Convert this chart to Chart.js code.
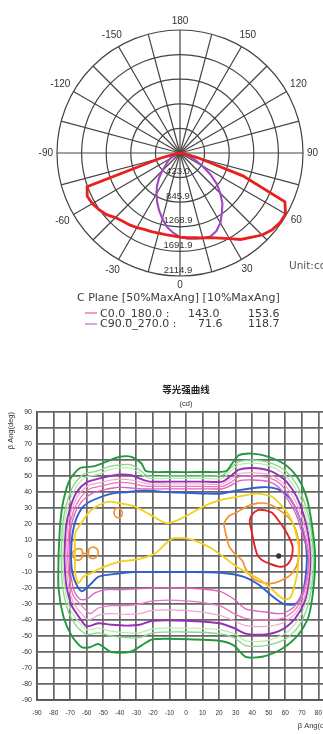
<!DOCTYPE html>
<html>
<head>
<meta charset="utf-8">
<script src="https://cdn.jsdelivr.net/npm/chart.js@4.4.0/dist/chart.umd.min.js"></script>
<style>
html, body { margin: 0; padding: 0; background: #fff; overflow: hidden; width: 323px; height: 734px; }
#polarChart { position: absolute; left: 0; top: 0; }
#isoChart { position: absolute; left: 0; top: 360px; }
.txt { position: absolute; font-family: "DejaVu Sans", sans-serif; font-size: 11px; color: #3a3a3a; white-space: pre; line-height: 1; }
.seg { position: absolute; width: 12px; height: 2px; }
</style>
</head>
<body>
<canvas id="polarChart" width="323" height="300"></canvas>
<canvas id="isoChart" width="340" height="374"></canvas>

<div class="txt" style="left:289px;top:259.5px;font-size:10.5px;color:#555">Unit:cd</div>
<div class="txt" style="left:77px;top:291.5px">C Plane [50%MaxAng] [10%MaxAng]</div>
<div class="seg" style="left:85px;top:312px;background:#f3a3a8"></div>
<div class="txt" style="left:100px;top:307.5px">C0.0_180.0 :</div>
<div class="txt" style="left:188px;top:307.5px">143.0</div>
<div class="txt" style="left:248px;top:307.5px">153.6</div>
<div class="seg" style="left:85px;top:322.5px;background:#d7a6e6"></div>
<div class="txt" style="left:100px;top:318px">C90.0_270.0 :</div>
<div class="txt" style="left:198px;top:318px">71.6</div>
<div class="txt" style="left:248px;top:318px">118.7</div>

<script>
// ---- polar diagram (luminous intensity, cd) ----
const POLAR_LABELS = [180, 175, 170, 165, 160, 155, 150, 145, 140, 135, 130, 125, 120, 115, 110, 105, 100, 95,
  90, 85, 80, 75, 70, 65, 60, 55, 50, 45, 40, 35, 30, 25, 20, 15, 10, 5,
  0, -5, -10, -15, -20, -25, -30, -35, -40, -45, -50, -55, -60, -65, -70, -75, -80, -85,
  -90, -95, -100, -105, -110, -115, -120, -125, -130, -135, -140, -145, -150, -155, -160, -165, -170, -175];
const ANGLE_TEXTS = [180, 150, 120, 90, 60, 30, 0, -30, -60, -90, -120, -150];
const RING_VALUES = [0, 423.0, 845.9, 1268.9, 1691.9, 2114.9];
const RING_LABELS = ['', '423.0', '845.9', '1268.9', '1691.9', '2114.9'];

const GAMMA = [-90, -85, -80, -75, -70, -65, -60, -55, -50, -45, -40, -35, -30, -25, -20, -15, -10, -5,
  0, 5, 10, 15, 20, 25, 30, 35, 40, 45, 50, 55, 60, 65, 70, 75, 80, 85, 90];
const C0_180 = [0, 0, 80, 350, 1700, 1760, 1740, 1700, 1650, 1570, 1530, 1510, 1480, 1450, 1440, 1425, 1425, 1430,
  1445, 1460, 1480, 1510, 1550, 1615, 1700, 1815, 1895, 1995, 2060, 2095, 2095, 1990, 1150, 320, 90, 35, 0];
const C90_270 = [0, 0, 20, 50, 90, 140, 200, 260, 320, 430, 560, 690, 810, 930, 1050, 1170, 1290, 1375,
  1445, 1480, 1495, 1515, 1530, 1480, 1390, 1255, 1135, 980, 825, 635, 445, 290, 170, 100, 50, 20, 0];

function onCircle(values) {
  return POLAR_LABELS.map(a => {
    const k = GAMMA.indexOf(a);
    return k >= 0 ? values[k] : 0;
  });
}

const polarText = {
  id: 'polarText',
  beforeDatasetsDraw(chart) {
    const r = chart.scales.r;
    const ctx = chart.ctx;
    ctx.save();
    ctx.fillStyle = '#333';
    ctx.textAlign = 'center';
    ctx.textBaseline = 'middle';
    ctx.font = '10px "Liberation Sans"';
    POLAR_LABELS.forEach((a, i) => {
      if (!ANGLE_TEXTS.includes(a)) return;
      const text = String(a);
      const w = ctx.measureText(text).width;
      const t = r.getIndexAngle(i);
      const d = r.drawingArea + 4 + Math.abs(Math.sin(t)) * w / 2 + Math.abs(Math.cos(t)) * 5;
      const p = r.getPointPosition(i, d);
      ctx.fillText(text, p.x, p.y);
    });
    ctx.font = '9.5px "Liberation Sans"';
    RING_VALUES.forEach((v, k) => {
      if (!RING_LABELS[k]) return;
      const d = r.getDistanceFromCenterForValue(v);
      ctx.fillText(RING_LABELS[k], r.xCenter - 2, r.yCenter + d - 6);
    });
    ctx.restore();
  }
};

new Chart(document.getElementById('polarChart'), {
  type: 'radar',
  data: {
    labels: POLAR_LABELS,
    datasets: [{
      label: 'C0.0_180.0',
      data: onCircle(C0_180),
      borderColor: '#e8201e',
      borderWidth: 2.8,
      pointRadius: 0,
      fill: false,
      tension: 0
    }, {
      label: 'C90.0_270.0',
      data: onCircle(C90_270),
      borderColor: '#a445c4',
      borderWidth: 2.1,
      pointRadius: 0,
      fill: false,
      tension: 0
    }]
  },
  options: {
    responsive: false,
    animation: false,
    layout: { padding: { left: 57, right: 20, top: 30, bottom: 24 } },
    plugins: { legend: { display: false }, tooltip: { enabled: false } },
    scales: {
      r: {
        min: 0,
        max: 2114.9,
        startAngle: 0,
        afterBuildTicks: s => { s.ticks = RING_VALUES.map(v => ({ value: v })); },
        ticks: { display: false },
        pointLabels: { display: false },
        grid: { circular: true, color: '#444', lineWidth: 1.2 },
        angleLines: {
          color: c => POLAR_LABELS[c.index] % 15 === 0 ? '#444' : 'transparent',
          lineWidth: c => POLAR_LABELS[c.index] % 15 === 0 ? 1.2 : 0
        }
      }
    }
  },
  plugins: [polarText]
});

// ---- iso-intensity diagram ----
const X_TICKS_STEP = 10;
const ISO_DARK_GREEN = [[-77,0],[-76,20],[-74,35],[-70,48],[-64,55],[-56,56],[-48,59],[-40,62],[-33,62],[-27,58],[-24,53],[-10,52.5],[10,52.5],[24,53],[28,58],[32,63],[40,64],[50,62],[60,57],[68,48],[73,36],[76,20],[78,0],[77,-20],[74,-38],[68,-49],[58,-58],[46,-63],[36,-63],[29,-56],[20,-53],[0,-52],[-20,-52],[-27,-56],[-34,-60],[-45,-60],[-53,-55],[-58,-57],[-63,-57],[-69,-50],[-74,-38],[-77,-20],[-77,0]];
const ISO_LIGHT_GREEN = [[-75.5,0],[-74.5,20],[-72,33],[-68,44],[-62,51],[-54,53],[-46,56],[-40,57],[-33,57],[-27,53],[-23,50],[-10,50],[10,50],[22,50.5],[27,55],[32,59],[40,60],[50,58.5],[59,54],[66,46],[71,35],[75,20],[77,0],[76,-18],[73,-33],[68,-44],[60,-52],[48,-56],[36,-56],[29,-51],[20,-48.5],[0,-47.5],[-20,-48],[-28,-51],[-36,-51],[-45,-50],[-53,-48],[-60,-49],[-66,-44],[-71,-35],[-74.5,-20],[-75.5,0]];
const ISO_PALE_GREEN = [[-74.5,0],[-73.5,20],[-71,32],[-67,42],[-61,49],[-53,51],[-46,54],[-40,55],[-33,55],[-27,51],[-22,48.5],[-10,48.5],[10,48.5],[22,48.5],[27,53],[32,57],[40,58],[50,56.5],[58,52],[65,44],[70,34],[74,19],[76,0],[75,-17],[72,-31],[67,-41],[59,-49],[48,-53],[36,-53],[29,-48.5],[20,-46],[0,-45],[-20,-45.5],[-28,-48],[-36,-48],[-45,-47],[-53,-45],[-60,-46],[-65,-41],[-70,-33],[-73.5,-18],[-74.5,0]];
const ISO_PURPLE = [[-73.5,0],[-72.5,18],[-70,30],[-66,40],[-60,46],[-52,48.5],[-46,50],[-40,51],[-33,50.5],[-27,48],[-22,46.5],[-10,46.5],[10,46.5],[22,46.5],[27,50],[32,54],[40,55],[50,53.5],[58,49],[64,42],[69,32],[73,18],[75.5,0],[74.5,-16],[71.5,-29],[66,-39],[58,-46],[48,-49],[36,-48.5],[29,-45],[20,-42],[0,-40.5],[-20,-40.5],[-28,-43],[-36,-43.5],[-45,-43],[-53,-42],[-60,-44],[-64,-39],[-69,-31],[-72.5,-17],[-73.5,0]];
const ISO_LIGHT_PINK = [[-72.5,0],[-71.5,18],[-69,29],[-65,38],[-59,44],[-51,46],[-45,47.5],[-40,48],[-33,47.5],[-27,46],[-22,45],[-10,45],[10,45],[22,45],[27,48],[32,51.5],[40,52],[50,51],[57,47],[63,40],[68,30],[72,17],[75,0],[74,-15],[71,-27],[66,-36],[58,-42],[48,-44],[36,-43.5],[29,-40.5],[20,-37],[0,-34],[-20,-34],[-28,-36],[-36,-36.5],[-45,-36],[-53,-37],[-59,-40],[-64,-35],[-68.5,-28],[-71.5,-15],[-72.5,0]];
const ISO_PINK = [[-71.5,0],[-70.5,17],[-68,28],[-64,36],[-58,42],[-50,44],[-44,45.5],[-40,46],[-33,45.5],[-27,44],[-22,43.5],[-10,43.5],[10,43.5],[22,43.5],[27,46],[32,49.5],[40,50],[50,49],[57,45],[62,38],[67,28],[71,16],[74.5,0],[73.5,-14],[70.5,-25],[65.5,-34],[58,-39],[48,-40],[36,-39],[29,-36],[20,-31],[0,-28],[-20,-28],[-28,-30],[-36,-31],[-45,-31],[-53,-32.5],[-58,-36],[-63,-31],[-68,-25],[-70.5,-14],[-71.5,0]];
const ISO_MAGENTA = [[-70.5,0],[-69.5,17],[-67,27],[-63,34],[-57,39],[-49,41.5],[-44,42.5],[-40,43],[-33,42.5],[-27,42],[-22,42],[-10,42],[10,42],[22,42],[27,44],[32,47],[40,47.5],[50,46.5],[56,43],[61,36],[66,27],[70,15],[74,0],[73,-13],[70,-24],[65,-32],[58,-36],[48,-35],[36,-33],[29,-27],[20,-22],[0,-20],[-20,-20],[-30,-20.5],[-40,-21],[-48,-21],[-55,-23],[-60,-27],[-64,-27],[-67.5,-22],[-69.5,-12],[-70.5,0]];
const ISO_BLUE = [[-69.5,0],[-69,10],[-68,17],[-66,24],[-62,31],[-56,35],[-45,39],[-35,40],[-25,41],[-12,40],[0,39.5],[12,39],[21,39],[31,41],[46,43],[55,42],[62,37],[67,28],[71,15],[73,0],[72,-15],[70,-24],[66,-30],[59,-30],[52,-25],[44,-18],[35,-13],[21,-10.5],[0,-10],[-15,-10],[-31,-10],[-45,-11.5],[-53,-13],[-58,-18],[-63,-22],[-67,-16],[-69,-8],[-69.5,0]];
const ISO_YELLOW = [[-67,2],[-67,14],[-63,21],[-58,28],[-52,32],[-47,34],[-40,33],[-31,31],[-22,26],[-12,20.5],[-6,22],[0,25],[8,29.5],[15,33],[23,35.5],[31,37],[43,39],[52,37],[58,31],[63,24],[66,16],[68,6],[68,0],[67,-12],[63,-26],[59,-27],[52,-21],[45,-15],[38,-11],[31,-7],[22,0],[15,5],[7,9],[0,11],[-8,11],[-13,7],[-18,2],[-25,-1],[-32,-2.5],[-40,-3.5],[-50,-7],[-58,-11],[-62,-13],[-65,-17],[-67,-10],[-67,2]];
const ISO_ORANGE = [[25,10],[23,20],[26,25],[31,27.5],[37,31],[43.5,33],[50,32.5],[56,29],[61,25],[64.5,20.5],[67,14],[68.5,6],[68,-1],[66.5,-7],[63,-12],[58,-15],[53,-17],[48,-17],[43,-15.5],[39.5,-13],[36,-8],[34,-3],[29,2],[26,6],[25,10]];
const ISO_ORANGE_LOOP = [[-41,30],[-39,28.5],[-38.5,26],[-40,24],[-42.5,24.5],[-43.5,27],[-42.5,29.5],[-41,30]];
const ISO_ORANGE_PAIR = [[-62.5,1.5],[-63,4],[-65.5,4.5],[-68,3],[-68.5,0.5],[-67,-2],[-64.5,-2.5],[-62.5,-0.5],[-62.5,1.5],[-59,1.8],[-58.5,4.5],[-56,5.5],[-53.5,4],[-53,1.5],[-54.5,-1],[-57,-1.5],[-59,0],[-59,1.8]];
const ISO_RED = [[39.5,16],[38.5,22],[40,26],[43.7,28.8],[48,28.5],[52,27],[56,22],[60,16],[63,10],[64.4,5.8],[64,0],[62,-4.5],[59,-6.5],[56,-6.6],[51,-5],[45.8,-2.5],[43,1],[41.6,5.8],[40.5,11],[39.5,16]];
const ISO_PEAK = [[56, 0]];

const ISO_LINES = [
  { pts: ISO_DARK_GREEN, color: '#23993f', width: 1.9 },
  { pts: ISO_LIGHT_GREEN, color: '#86d886', width: 1.3 },
  { pts: ISO_PALE_GREEN, color: '#b5ebb0', width: 1.2 },
  { pts: ISO_PURPLE, color: '#9a2fb6', width: 1.9 },
  { pts: ISO_LIGHT_PINK, color: '#f1a3d6', width: 1.2 },
  { pts: ISO_PINK, color: '#ee72bd', width: 1.3 },
  { pts: ISO_MAGENTA, color: '#de5fc2', width: 1.3 },
  { pts: ISO_BLUE, color: '#2f5fcf', width: 1.9 },
  { pts: ISO_YELLOW, color: '#f2d01c', width: 1.8 },
  { pts: ISO_ORANGE, color: '#f3922f', width: 1.7 },
  { pts: ISO_ORANGE_LOOP, color: '#f3922f', width: 1.7 },
  { pts: ISO_ORANGE_PAIR, color: '#f3922f', width: 1.7 },
  { pts: ISO_RED, color: '#e22424', width: 1.9 }
];

const tickFont = { family: '"Liberation Sans"', size: 6.5 };
const gridStyle = { color: '#666', lineWidth: 1.7, drawTicks: false };

new Chart(document.getElementById('isoChart'), {
  type: 'scatter',
  data: {
    datasets: ISO_LINES.map(l => ({
      data: l.pts.map(p => ({ x: p[0], y: p[1] })),
      showLine: true,
      borderColor: l.color,
      borderWidth: l.width,
      pointRadius: 0,
      tension: 0.25,
      fill: false
    })).concat([{
      data: ISO_PEAK.map(p => ({ x: p[0], y: p[1] })),
      showLine: false,
      pointRadius: 2.3,
      pointBackgroundColor: '#333',
      pointBorderColor: '#333'
    }])
  },
  options: {
    responsive: false,
    animation: false,
    layout: { padding: 0 },
    plugins: {
      legend: { display: false },
      tooltip: { enabled: false },
      title: {
        display: true, text: '等光强曲线', fullSize: false, color: '#222',
        font: { family: '"Noto Sans CJK SC"', size: 9.5, weight: 'bold' },
        padding: { top: 24, bottom: 0 }
      },
      subtitle: {
        display: true, text: '(cd)', fullSize: false, color: '#333',
        font: { family: '"Liberation Sans"', size: 7.5 },
        padding: { top: 4, bottom: 3.6 }
      }
    },
    scales: {
      x: {
        type: 'linear', min: -90, max: 90,
        ticks: { stepSize: X_TICKS_STEP, font: tickFont, color: '#333', padding: 9, maxRotation: 0, autoSkip: false },
        grid: gridStyle,
        border: { color: '#555', width: 1.7 },
        title: { display: true, text: 'β Ang(deg)', align: 'end', color: '#333', font: { family: '"Liberation Sans"', size: 7.5 }, padding: { top: 2, bottom: 4 } },
        afterFit: s => { s.height = 34; s.paddingLeft = 0; s.paddingRight = 0; }
      },
      y: {
        type: 'linear', min: -90, max: 90,
        ticks: { stepSize: 10, font: { family: '"Liberation Sans"', size: 7 }, color: '#333', padding: 5, autoSkip: false },
        grid: gridStyle,
        border: { color: '#555', width: 1.7 },
        title: { display: true, text: 'β Ang(deg)', align: 'end', color: '#333', font: { family: '"Liberation Sans"', size: 7.5 }, padding: { top: 6, bottom: 2 } },
        afterFit: s => { s.width = 37; s.paddingTop = 0; s.paddingBottom = 0; }
      }
    }
  }
});
</script>
</body>
</html>
